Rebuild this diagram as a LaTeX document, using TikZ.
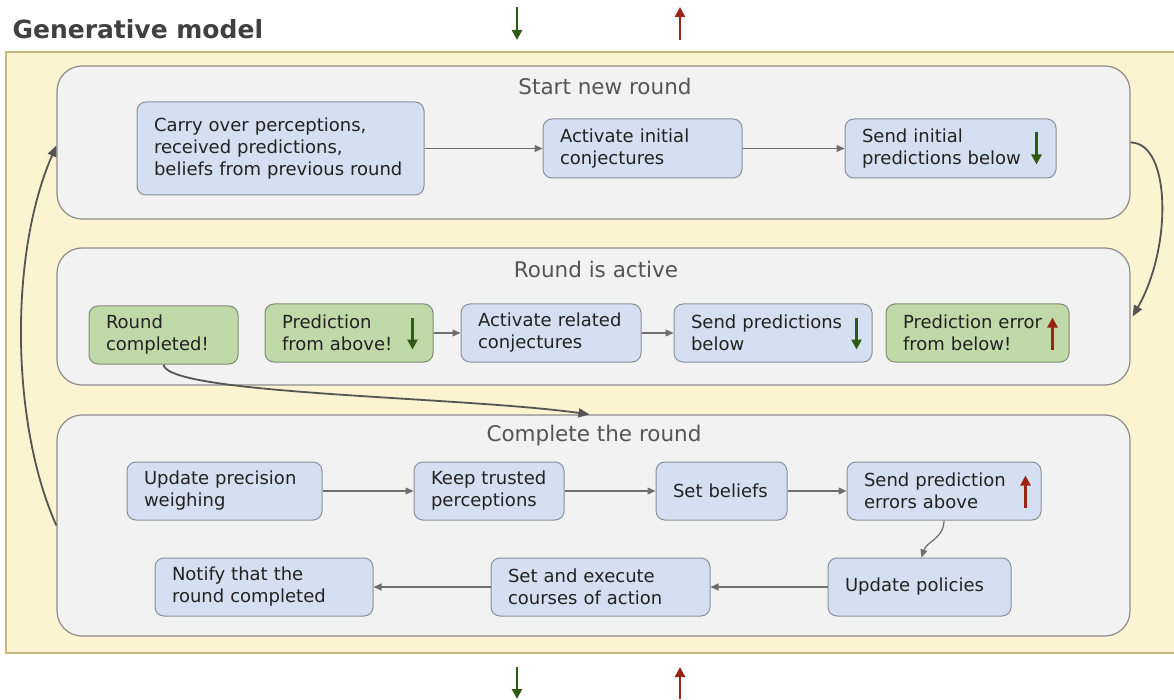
\documentclass[tikz,border=0pt]{standalone}
\usepackage{fontspec}
\setmainfont{DejaVu Sans}
\usetikzlibrary{arrows.meta}

\definecolor{modelfill}{HTML}{FCF3D0}
\definecolor{modelline}{HTML}{C9B77F}
\definecolor{panelfill}{HTML}{F2F2F2}
\definecolor{panelline}{HTML}{8C8C8C}
\definecolor{stepfill}{HTML}{D4E0F1}
\definecolor{stepline}{HTML}{8A8F99}
\definecolor{eventfill}{HTML}{BFD9A8}
\definecolor{eventline}{HTML}{7E8C70}
\definecolor{downgreen}{HTML}{2F5A14}
\definecolor{upred}{HTML}{9B2412}
\definecolor{linkgrey}{HTML}{6E6E6E}
\definecolor{loopgrey}{HTML}{555555}
\definecolor{textdark}{HTML}{222222}
\definecolor{titlegrey}{HTML}{404040}
\definecolor{headgrey}{HTML}{555555}

\tikzset{
  panel/.style={draw=panelline, fill=panelfill, line width=1.2pt,
    rounded corners=25pt, minimum width=1073pt, inner sep=0pt},
  panelhead/.style={font=\fontsize{21.5}{26}\selectfont, text=headgrey},
  stepbox/.style={draw=stepline, fill=stepfill, line width=1pt,
    rounded corners=9pt, align=left, inner xsep=17pt, inner ysep=0pt,
    font=\fontsize{18}{22}\selectfont, text=textdark},
  eventbox/.style={stepbox, draw=eventline, fill=eventfill},
  link/.style={draw=linkgrey, line width=1.2pt,
    -{Triangle[length=8pt,width=7pt]}},
  loop/.style={draw=loopgrey, line width=1.8pt,
    -{Triangle[length=11pt,width=9pt]}},
  downsig/.style={draw=downgreen, line width=2.6pt,
    -{Triangle[length=10pt,width=10pt]}},
  upsig/.style={draw=upred, line width=2.6pt,
    -{Triangle[length=10pt,width=10pt]}},
}

\begin{document}
\begin{tikzpicture}[x=1pt, y=-1pt]
\useasboundingbox (0,0) rectangle (1174,700);

% title and the generative model frame
\node[anchor=base west, font=\fontsize{25}{30}\selectfont\bfseries, text=titlegrey]
  (title) at (9,39) {Generative model};
\draw[fill=modelfill, draw=modelline, line width=1.5pt] (6,52) rectangle (1182,653);

% signals entering and leaving the model
\coordinate (topdownA) at (517,7);
\coordinate (topdownB) at (517,40);
\coordinate (topupA) at (680,40);
\coordinate (topupB) at (680,7);
\coordinate (botdownA) at (517,667);
\coordinate (botdownB) at (517,699);
\coordinate (botupA) at (680,699);
\coordinate (botupB) at (680,667);
\draw[downsig] (topdownA) -- (topdownB);
\draw[upsig] (topupA) -- (topupB);
\draw[downsig] (botdownA) -- (botdownB);
\draw[upsig] (botupA) -- (botupB);

% the three phases
\node[panel, minimum height=153pt] (p1) at (593.5,142.5) {};
\node[panel, minimum height=137pt] (p2) at (593.5,316.5) {};
\node[panel, minimum height=221pt] (p3) at (593.5,525.5) {};
\node[panelhead] (h1) at (605,86) {Start new round};
\node[panelhead] (h2) at (596,269) {Round is active};
\node[panelhead] (h3) at (594,436) {Complete the round};

% start new round
\node[stepbox, text width=253pt, minimum height=93pt] (carry) at (280.5,148.5)
  {Carry over perceptions,\\received predictions,\\beliefs from previous round};
\node[stepbox, text width=165pt, minimum height=59pt] (aic) at (642.5,148.5)
  {Activate initial\\conjectures};
\node[stepbox, text width=177pt, minimum height=59pt] (sip) at (950.5,148.5)
  {Send initial\\predictions below};
\draw[link] (carry) -- (aic);
\draw[link] (aic) -- (sip);
\draw[downsig] ([xshift=-20pt,yshift=-14pt]sip.north east) -- ([xshift=-20pt,yshift=14pt]sip.south east);

% round is active
\node[eventbox, text width=115pt, minimum height=58pt] (rc) at (163.5,335)
  {Round\\completed!};
\node[eventbox, text width=134pt, minimum height=58pt] (pfa) at (349,333)
  {Prediction\\from above!};
\node[stepbox, text width=146pt, minimum height=58pt] (arc) at (551,333)
  {Activate related\\conjectures};
\node[stepbox, text width=164pt, minimum height=58pt] (spb) at (773,333)
  {Send predictions\\below};
\node[eventbox, text width=149pt, minimum height=58pt] (pefb) at (977.5,333)
  {Prediction error\\from below!};
\draw[link] (pfa) -- (arc);
\draw[link] (arc) -- (spb);
\draw[downsig] ([xshift=-21pt,yshift=-14pt]pfa.north east) -- ([xshift=-21pt,yshift=13pt]pfa.south east);
\draw[downsig] ([xshift=-16pt,yshift=-14pt]spb.north east) -- ([xshift=-16pt,yshift=13pt]spb.south east);
\draw[upsig] ([xshift=-17pt,yshift=13pt]pefb.south east) -- ([xshift=-17pt,yshift=-14pt]pefb.north east);

% complete the round
\node[stepbox, text width=161pt, minimum height=58pt] (upw) at (224.5,491)
  {Update precision\\weighing};
\node[stepbox, text width=116pt, minimum height=58pt] (ktp) at (489,491)
  {Keep trusted\\perceptions};
\node[stepbox, text width=97pt, minimum height=58pt] (sb) at (721.5,491)
  {Set beliefs};
\node[stepbox, text width=160pt, minimum height=58pt] (spe) at (944,491)
  {Send prediction\\errors above};
\node[stepbox, text width=149pt, minimum height=58pt] (up) at (919.5,587)
  {Update policies};
\node[stepbox, text width=185pt, minimum height=58pt] (sec) at (600.5,587)
  {Set and execute\\courses of action};
\node[stepbox, text width=184pt, minimum height=58pt] (ntr) at (264,587)
  {Notify that the\\round completed};
\draw[link] (upw) -- (ktp);
\draw[link] (ktp) -- (sb);
\draw[link] (sb) -- (spe);
\draw[link] (spe.south) .. controls +(0,18) and +(5,-16) .. ([xshift=2pt]up.north);
\draw[link] (up) -- (sec);
\draw[link] (sec) -- (ntr);
\draw[upsig] ([xshift=-16pt,yshift=13pt]spe.south east) -- ([xshift=-16pt,yshift=-14pt]spe.north east);

% transitions between phases
\coordinate (p1out) at ([yshift=0pt]p1.east);
\coordinate (p2in) at ([xshift=2pt]p2.east);
\coordinate (p3in) at ([xshift=-4pt]p3.north);
\coordinate (p3out) at ([yshift=0pt]p3.west);
\coordinate (p1in) at ([yshift=-3pt]p1.west);
\draw[loop] (p1out) .. controls +(40,0) and +(40,-70) .. (p2in);
\draw[loop] (rc.south) .. controls +(3,30) and +(-130,-18) .. (p3in);
\draw[loop] (p3out) .. controls +(-45,-100) and +(-48,110) .. (p1in);
\end{tikzpicture}
\end{document}
